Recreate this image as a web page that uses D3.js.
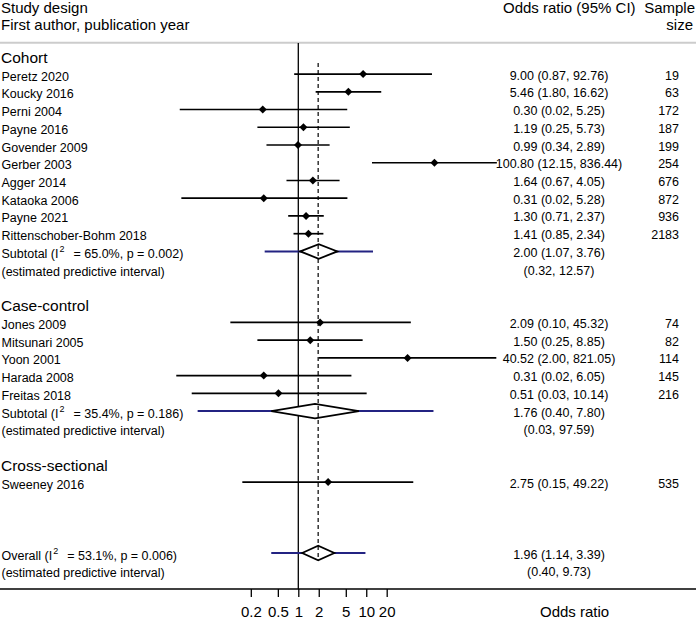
<!DOCTYPE html>
<html>
<head>
<meta charset="utf-8">
<script src="https://cdn.jsdelivr.net/npm/d3@7"></script>
<style>
  html, body { margin: 0; padding: 0; background: #fff; }
  svg { display: block; font-family: "Liberation Sans", Arial, sans-serif; }
</style>
</head>
<body>
<svg id="chart" width="696" height="619"></svg>
<script>
// ---------------- data ----------------
const groups = ["Cohort", "Case-control", "Cross-sectional"];
const studyNames = ["Peretz 2020", "Koucky 2016", "Perni 2004", "Payne 2016", "Govender 2009",
  "Gerber 2003", "Agger 2014", "Kataoka 2006", "Payne 2021", "Rittenschober-Bohm 2018",
  "Jones 2009", "Mitsunari 2005", "Yoon 2001", "Harada 2008", "Freitas 2018",
  "Sweeney 2016"];
const studyGroup = [0,0,0,0,0,0,0,0,0,0, 1,1,1,1,1, 2];
const studyOR = [9.00, 5.46, 0.30, 1.19, 0.99, 100.80, 1.64, 0.31, 1.30, 1.41,
  2.09, 1.50, 40.52, 0.31, 0.51, 2.75];
// lower limits as drawn (rounded in the printed text)
const studyLo = [0.87, 1.80, 0.018, 0.25, 0.34, 12.15, 0.67, 0.019, 0.71, 0.85,
  0.10, 0.25, 2.00, 0.016, 0.027, 0.15];
const studyHi = [92.76, 16.62, 5.25, 5.73, 2.89, 836.44, 4.05, 5.28, 2.37, 2.34,
  45.32, 8.85, 821.05, 6.05, 10.14, 49.22];
const studyCI = ["9.00 (0.87, 92.76)", "5.46 (1.80, 16.62)", "0.30 (0.02, 5.25)",
  "1.19 (0.25, 5.73)", "0.99 (0.34, 2.89)", "100.80 (12.15, 836.44)", "1.64 (0.67, 4.05)",
  "0.31 (0.02, 5.28)", "1.30 (0.71, 2.37)", "1.41 (0.85, 2.34)", "2.09 (0.10, 45.32)",
  "1.50 (0.25, 8.85)", "40.52 (2.00, 821.05)", "0.31 (0.02, 6.05)", "0.51 (0.03, 10.14)",
  "2.75 (0.15, 49.22)"];
const studyN = [19, 63, 172, 187, 199, 254, 676, 872, 936, 2183, 74, 82, 114, 145, 216, 535];

// subtotals: Cohort, Case-control, Overall
const sumLabel = ["Subtotal", "Subtotal", "Overall"];
const sumI2 = ["65.0%", "35.4%", "53.1%"];
const sumP = ["0.002", "0.186", "0.006"];
const sumOR = [2.00, 1.76, 1.96];
const sumLo = [1.07, 0.40, 1.14];
const sumHi = [3.76, 7.80, 3.39];
const piLo = [0.32, 0.033, 0.40];
const piHi = [12.57, 97.59, 9.73];
const sumCI = ["2.00 (1.07, 3.76)", "1.76 (0.40, 7.80)", "1.96 (1.14, 3.39)"];
const piCI = ["(0.32, 12.57)", "(0.03, 97.59)", "(0.40, 9.73)"];

const tickValues = [0.2, 0.5, 1, 2, 5, 10, 20];
const tickLabels = ["0.2", "0.5", "1", "2", "5", "10", "20"];

// ---------------- layout ----------------
const W = 696, H = 619;
const svg = d3.select("#chart");
const x = d3.scaleLog().domain([1, 20]).range([298.3, 386.7]);
const rowY = i => 56.3 + 17.74 * i;
const axisY = 589;
const blue = "#232382";

// build row list
const rows = [];
let r = 0;
groups.forEach((g, gi) => {
  rows.push({type: "group", label: g, i: r++});
  studyNames.forEach((s, si) => {
    if (studyGroup[si] === gi) rows.push({type: "study", si, i: r++});
  });
  if (gi < 2) {
    rows.push({type: "sum", k: gi, i: r++});
    rows.push({type: "pi", k: gi, i: r++});
    r++; // blank
  } else {
    r += 3; // blanks
    rows.push({type: "sum", k: 2, i: r++});
    rows.push({type: "pi", k: 2, i: r++});
  }
});

// header
svg.append("text").attr("x", 1).attr("y", 12.5).attr("font-size", 15).text("Study design");
svg.append("text").attr("x", 1).attr("y", 30).attr("font-size", 15).text("First author, publication year");
svg.append("text").attr("x", 503).attr("y", 12.5).attr("font-size", 15).text("Odds ratio (95% CI)");
svg.append("text").attr("x", 695).attr("y", 12.5).attr("font-size", 15).attr("text-anchor", "end").text("Sample");
svg.append("text").attr("x", 693).attr("y", 30).attr("font-size", 15).attr("text-anchor", "end").text("size");
svg.append("line").attr("x1", 0).attr("x2", W).attr("y1", 42.7).attr("y2", 42.7)
  .attr("stroke", "#cccccc").attr("stroke-width", 2);

// reference line at OR = 1
svg.append("line").attr("x1", x(1)).attr("x2", x(1)).attr("y1", 43).attr("y2", axisY)
  .attr("stroke", "#000").attr("stroke-width", 1.3);

const textBase = 5.5;
rows.forEach(row => {
  const y = rowY(row.i);
  if (row.type === "group") {
    svg.append("text").attr("x", 1).attr("y", y + 6.5).attr("font-size", 15.5).text(row.label);
  } else if (row.type === "study") {
    const s = row.si;
    svg.append("text").attr("x", 1.5).attr("y", y + textBase + 1).attr("font-size", 12.5).text(studyNames[s]);
    svg.append("line").attr("x1", x(studyLo[s])).attr("x2", x(studyHi[s])).attr("y1", y).attr("y2", y)
      .attr("stroke", "#000").attr("stroke-width", 1.7);
    const cx = x(studyOR[s]), d = 4;
    svg.append("path").attr("d", `M${cx - d},${y}L${cx},${y - d}L${cx + d},${y}L${cx},${y + d}Z`)
      .attr("fill", "#000");
    svg.append("text").attr("x", 559).attr("y", y + textBase).attr("font-size", 12.5)
      .attr("text-anchor", "middle").text(studyCI[s]);
    svg.append("text").attr("x", 679).attr("y", y + textBase).attr("font-size", 12.5)
      .attr("text-anchor", "end").text(studyN[s]);
  } else if (row.type === "sum") {
    const k = row.k;
    const t = svg.append("text").attr("x", 1.5).attr("y", y + textBase + 1).attr("font-size", 12.5);
    t.append("tspan").text(sumLabel[k] + " (I");
    t.append("tspan").attr("font-size", 9).attr("dy", -6).attr("dx", 1).text("2");
    t.append("tspan").attr("dy", 6).attr("dx", 9).text("= " + sumI2[k] + ", p = " + sumP[k] + ")");
    svg.append("line").attr("x1", x(piLo[k])).attr("x2", x(piHi[k])).attr("y1", y).attr("y2", y)
      .attr("stroke", blue).attr("stroke-width", 2);
    const l = x(sumLo[k]), m = x(sumOR[k]), h = x(sumHi[k]), dy = 7.3;
    svg.append("path").attr("d", `M${l},${y}L${m},${y - dy}L${h},${y}L${m},${y + dy}Z`)
      .attr("fill", "#fff").attr("stroke", "#000").attr("stroke-width", 1.8);
    svg.append("text").attr("x", 559).attr("y", y + textBase).attr("font-size", 12.5)
      .attr("text-anchor", "middle").text(sumCI[k]);
  } else if (row.type === "pi") {
    const k = row.k;
    svg.append("text").attr("x", 1.5).attr("y", y + textBase + 1).attr("font-size", 12.5)
      .text("(estimated predictive interval)");
    svg.append("text").attr("x", 559).attr("y", y + textBase).attr("font-size", 12.5)
      .attr("text-anchor", "middle").text(piCI[k]);
  }
});

// dashed line at overall estimate, drawn on top of the diamonds
svg.append("line").attr("x1", x(sumOR[2])).attr("x2", x(sumOR[2])).attr("y1", 63).attr("y2", 560)
  .attr("stroke", "#000").attr("stroke-width", 1.2).attr("stroke-dasharray", "4,3");

// axis
svg.append("line").attr("x1", 0).attr("x2", W).attr("y1", axisY).attr("y2", axisY)
  .attr("stroke", "#000").attr("stroke-width", 1.3);
const axis = d3.axisBottom(x).tickValues(tickValues).tickSize(8).tickPadding(9)
  .tickFormat((d, i) => tickLabels[i]);
const ag = svg.append("g").attr("transform", `translate(0,${axisY})`).call(axis);
ag.select(".domain").remove();
ag.selectAll(".tick line").attr("stroke", "#000").attr("stroke-width", 1.3);
ag.selectAll(".tick text").attr("font-size", 15).attr("fill", "#000")
  .attr("font-family", "Liberation Sans, Arial, sans-serif");
svg.append("text").attr("x", 540).attr("y", 616.5).attr("font-size", 15).text("Odds ratio");
</script>
</body>
</html>
